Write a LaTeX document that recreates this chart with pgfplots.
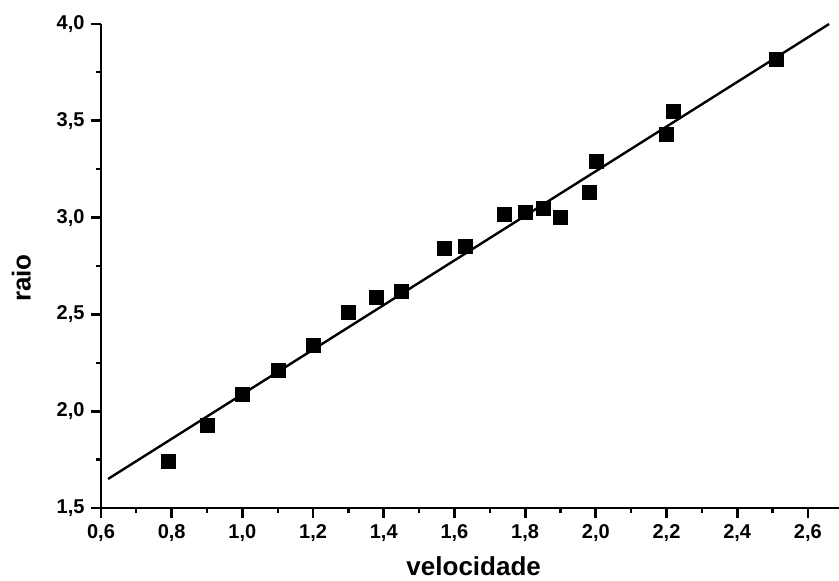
\documentclass[border=0pt]{standalone}
\usepackage{fontspec}
\setmainfont{Liberation Sans}
\usepackage{pgfplots}
\pgfplotsset{compat=1.18}

\begin{document}
\begin{tikzpicture}
\begin{axis}[
  scale only axis, width=738pt, height=484pt,
  xmin=0.6, xmax=2.688, ymin=1.5, ymax=4.0,
  axis x line=bottom, axis y line=left,
  axis line style={-, line width=2.8pt},
  xtick={0.6,0.8,1.0,1.2,1.4,1.6,1.8,2.0,2.2,2.4,2.6},
  ytick={1.5,2.0,2.5,3.0,3.5,4.0},
  minor x tick num=1, minor y tick num=1,
  tick align=outside,
  major tick length=10pt, minor tick length=5pt,
  tick style={black},
  major tick style={line width=2.8pt},
  minor tick style={line width=2.2pt},
  ticklabel style={font=\bfseries\fontsize{20}{20}\selectfont},
  xticklabel style={yshift=-3pt},
  yticklabel style={xshift=-3pt},
  /pgf/number format/.cd, use comma, fixed, fixed zerofill, precision=1, assume math mode=true,
  /pgfplots/.cd,
  xlabel={velocidade}, ylabel={raio},
  label style={font=\bfseries\fontsize{26}{26}\selectfont},
  xlabel style={at={(axis description cs:0.505,-0.14)}, anchor=base},
  ylabel style={at={(axis description cs:-0.108,0.475)}, anchor=center},
  clip=false,
]
% fitted line
\addplot[black, line width=2.4pt, no marks] coordinates {(0.62,1.65) (2.66,4.0)};
% measured points
\addplot[only marks, mark=square*, mark size=7pt, black] coordinates {
(0.79,1.74) (0.90,1.93) (1.00,2.09) (1.10,2.21) (1.20,2.34)
(1.30,2.51) (1.38,2.59) (1.45,2.62) (1.57,2.84) (1.63,2.85)
(1.74,3.02) (1.80,3.03) (1.85,3.05) (1.90,3.00) (1.98,3.13)
(2.00,3.29) (2.20,3.43) (2.22,3.55) (2.51,3.82)
};
\end{axis}
\pgfresetboundingbox
\path (-101pt,-73pt) rectangle (738pt,508pt);
\end{tikzpicture}
\end{document}
